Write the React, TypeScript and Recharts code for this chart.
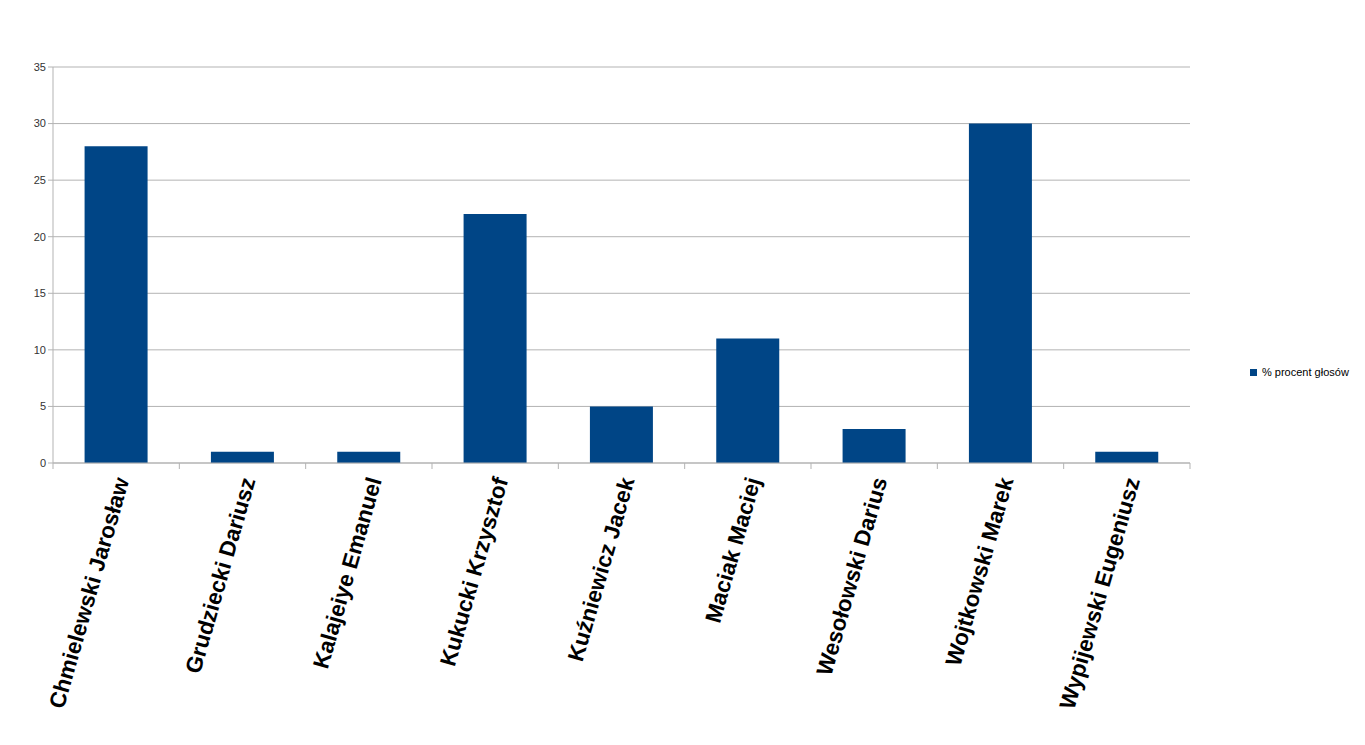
import { Bar, BarChart, CartesianGrid, XAxis, YAxis } from "recharts";

const CANDIDATES = [
  "Chmielewski Jarosław",
  "Grudziecki Dariusz",
  "Kalajeiye Emanuel",
  "Kukucki Krzysztof",
  "Kuźniewicz Jacek",
  "Maciak Maciej",
  "Wesołowski Darius",
  "Wojtkowski Marek",
  "Wypijewski Eugeniusz",
];
const VOTE_SHARE = [28, 1, 1, 22, 5, 11, 3, 30, 1];
const Y_TICKS = [0, 5, 10, 15, 20, 25, 30, 35];
const SERIES_NAME = "% procent głosów";

const BLUE = "#004586";
const GRID = "#b3b3b3";

const data = CANDIDATES.map((name, i) => ({ name, value: VOTE_SHARE[i] }));

function NameTick(props: any) {
  const { x, y, payload, index, visibleTicksCount } = props;
  const half = payload.offset ?? 0;
  const isLast = index === visibleTicksCount - 1;
  return (
    <g>
      <line x1={x - half} x2={x - half} y1={y - 8} y2={y - 2} stroke={GRID} />
      {isLast && (
        <line x1={x + half} x2={x + half} y1={y - 8} y2={y - 2} stroke={GRID} />
      )}
      <text
        x={x + 6}
        y={y + 7}
        transform={`rotate(-74, ${x + 6}, ${y + 7})`}
        textAnchor="end"
        dominantBaseline="central"
        fontFamily="Liberation Sans, Arial, sans-serif"
        fontWeight="bold"
        fontSize={22.5}
        fill="#000"
      >
        {payload.value}
      </text>
    </g>
  );
}

export default function App() {
  return (
    <div
      style={{
        position: "absolute",
        left: 0,
        top: 0,
        width: 1365,
        height: 745,
        background: "#fff",
      }}
    >
      <BarChart
        width={1365}
        height={745}
        data={data}
        margin={{ top: 67, right: 175, bottom: 0, left: 0 }}
        barCategoryGap="25%"
      >
        <CartesianGrid vertical={false} stroke={GRID} />
        <XAxis
          dataKey="name"
          height={282}
          interval={0}
          axisLine={{ stroke: GRID }}
          tickLine={false}
          tick={<NameTick />}
        />
        <YAxis
          yAxisId={0}
          width={53}
          domain={[0, 35]}
          ticks={Y_TICKS}
          interval={0}
          axisLine={{ stroke: GRID }}
          tickLine={{ stroke: GRID }}
          tickSize={5}
          tick={{
            fontSize: 11,
            fill: "#333",
            fontFamily: "Liberation Sans, Arial, sans-serif",
          }}
        />
        <YAxis
          yAxisId="right"
          orientation="right"
          width={0}
          domain={[0, 35]}
          tick={false}
          tickLine={false}
          axisLine={{ stroke: GRID }}
        />
        <Bar
          dataKey="value"
          name={SERIES_NAME}
          fill={BLUE}
          isAnimationActive={false}
        />
      </BarChart>
      <div
        style={{
          position: "absolute",
          left: 1250,
          top: 366,
          display: "flex",
          alignItems: "center",
          fontFamily: "Liberation Sans, Arial, sans-serif",
          fontSize: 11,
          color: "#000",
        }}
      >
        <span
          style={{
            width: 7,
            height: 7,
            background: BLUE,
            display: "inline-block",
            marginRight: 5,
          }}
        />
        {SERIES_NAME}
      </div>
    </div>
  );
}
